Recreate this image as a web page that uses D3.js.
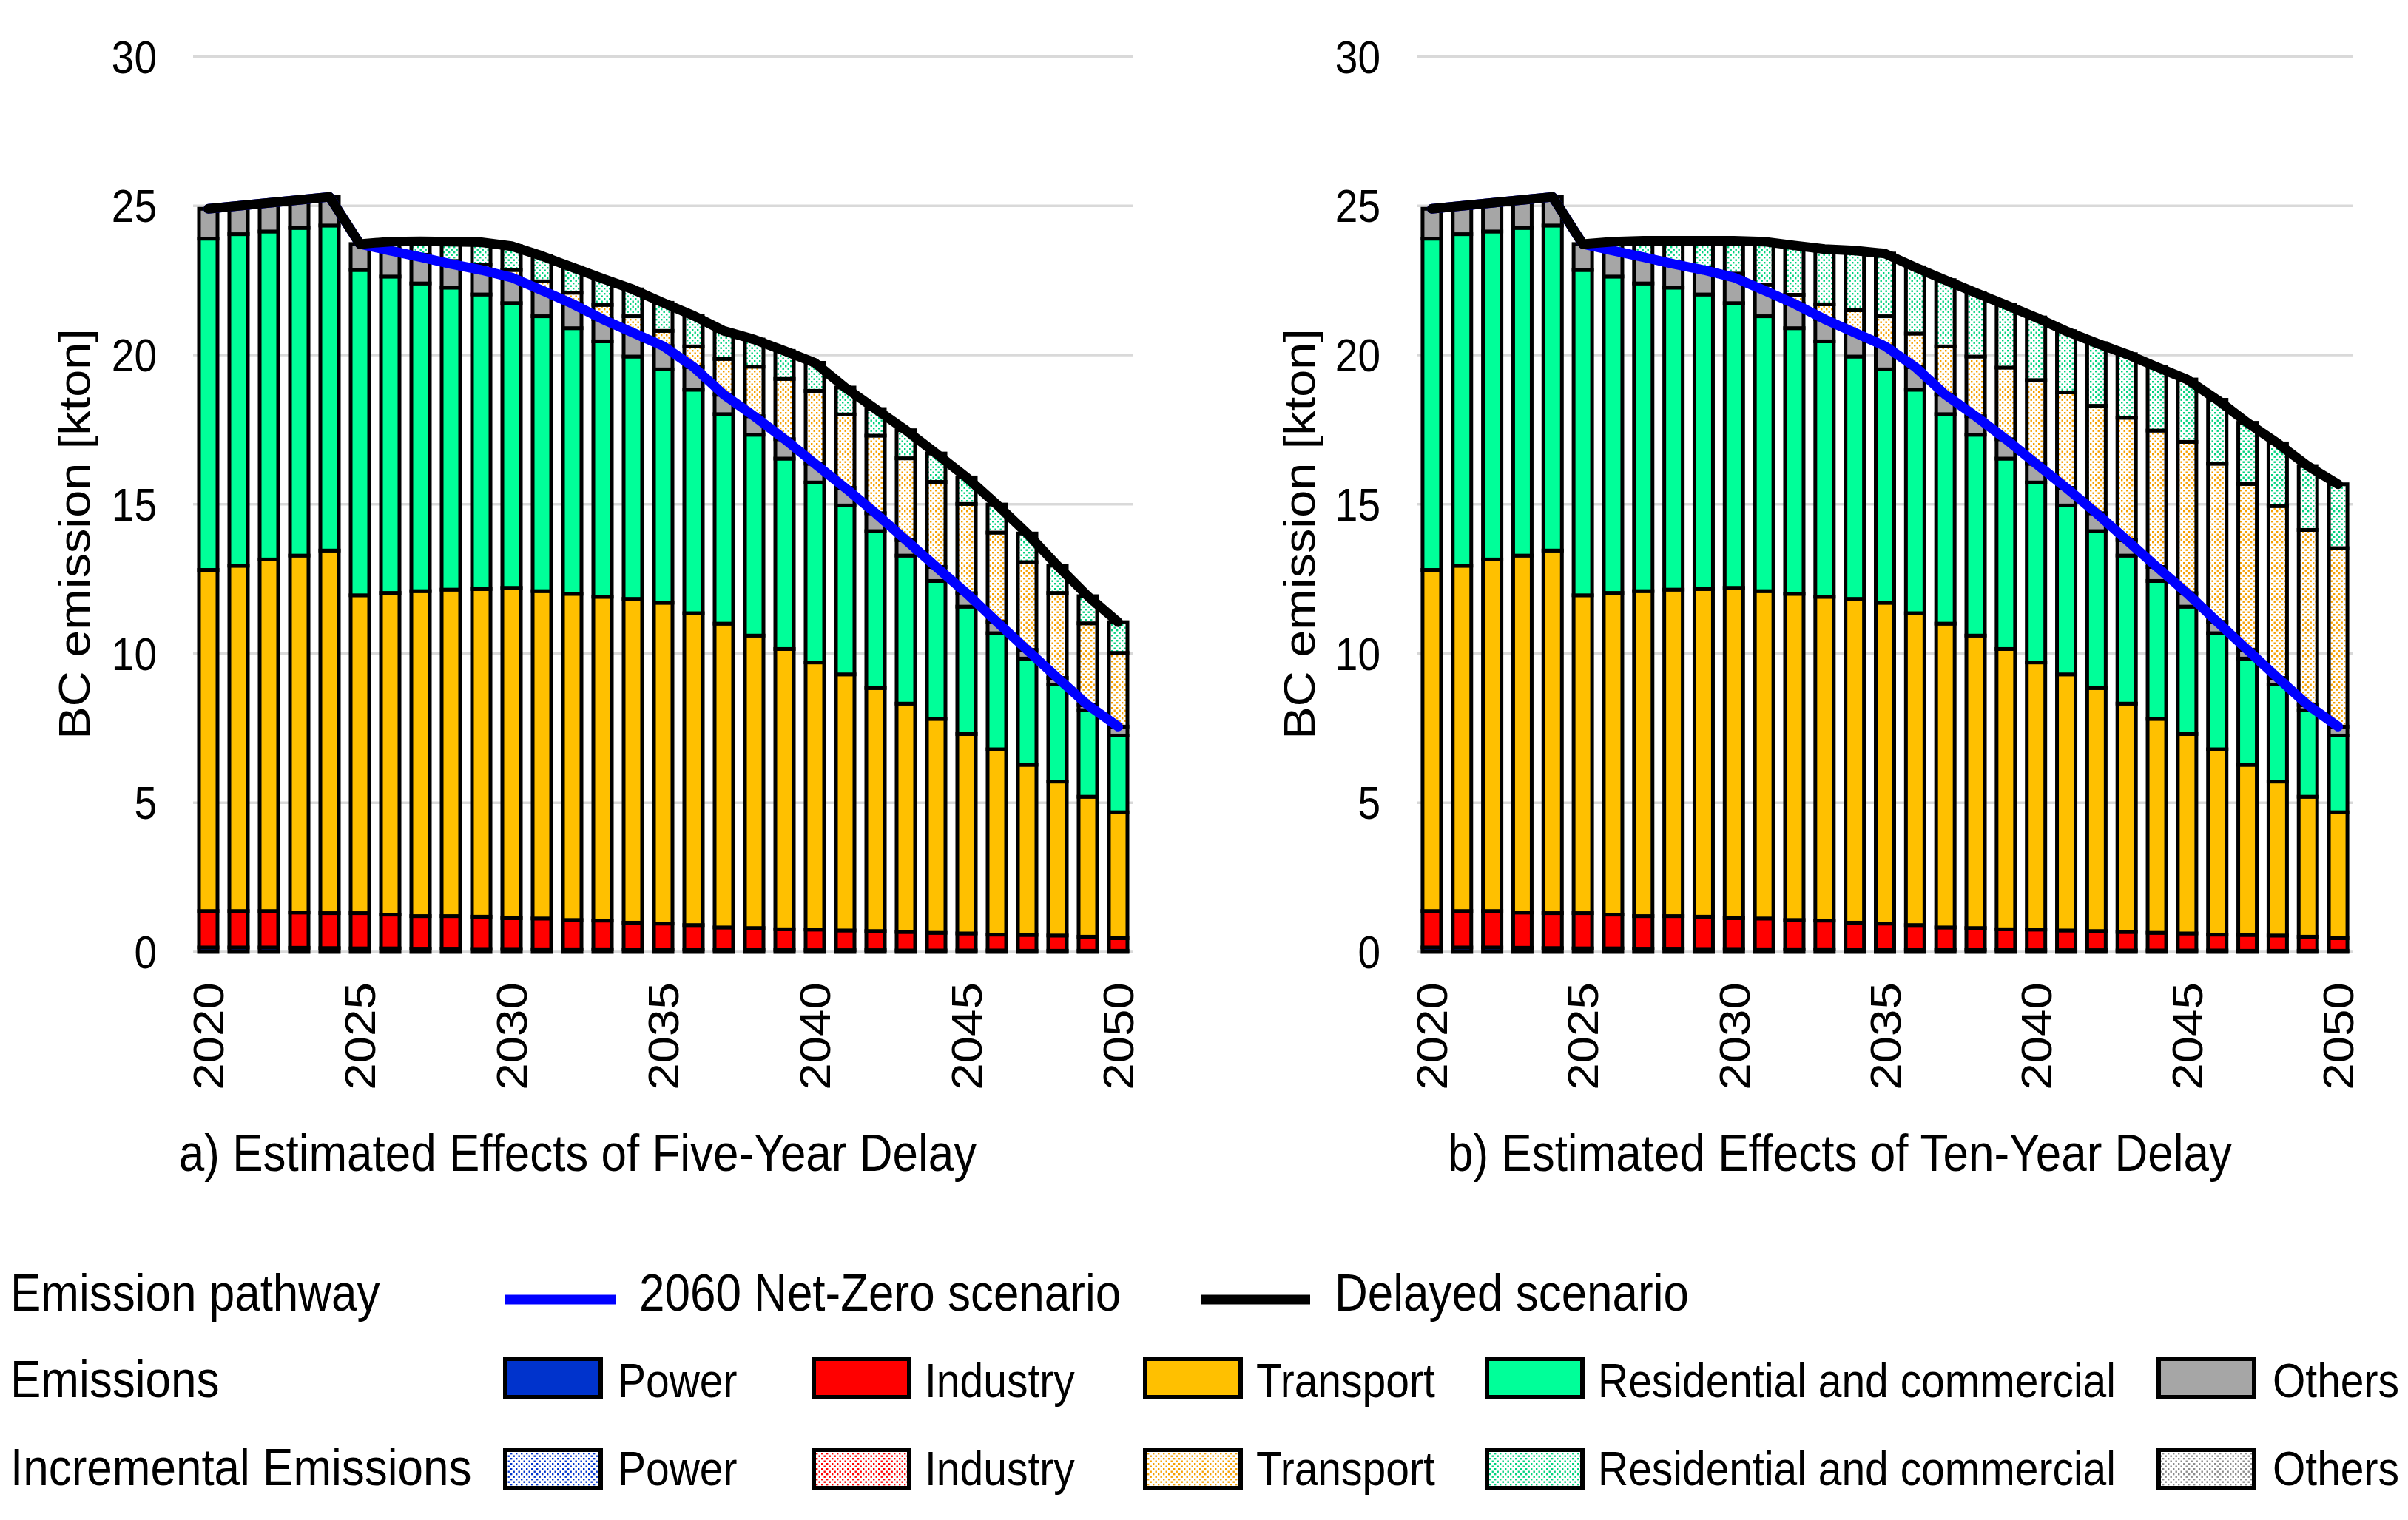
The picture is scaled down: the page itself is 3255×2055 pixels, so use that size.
<!DOCTYPE html>
<html><head><meta charset="utf-8">
<script src="https://cdn.jsdelivr.net/npm/d3@7"></script>
<style>
html,body{margin:0;padding:0;background:#fff;}
svg{display:block;}
text{font-family:"Liberation Sans",Arial,sans-serif;fill:#000;}
</style>
</head><body>
<svg id="c" width="3255" height="2055"></svg>
<script>
// ---------------- DATA ----------------
const years = [2020,2021,2022,2023,2024,2025,2026,2027,2028,2029,2030,2031,2032,2033,2034,2035,
               2036,2037,2038,2039,2040,2041,2042,2043,2044,2045,2046,2047,2048,2049,2050];
const xTickYears = [2020,2025,2030,2035,2040,2045,2050];
const yTicks = [0,5,10,15,20,25,30];

const sectors = ["Power","Industry","Transport","Residential and commercial","Others"];
const sectorColors = ["#0033CC","#FF0000","#FFC000","#00FF99","#A6A6A6"];
const dotColors = ["#0033CC","#FF0000","#F5A000","#00D27E","#8C8C8C"];

// 2060 Net-Zero scenario emissions by sector (kton)
const basePower = [0.15,0.15,0.15,0.14,0.13,0.12,0.12,0.11,0.11,0.10,0.10,0.09,0.09,0.09,0.08,0.08,
                   0.08,0.07,0.07,0.07,0.06,0.06,0.06,0.05,0.05,0.05,0.05,0.04,0.04,0.04,0.04];
const baseIndustry = [1.22,1.22,1.22,1.18,1.17,1.18,1.13,1.09,1.09,1.08,1.03,1.03,0.98,0.96,0.90,0.87,
                      0.82,0.75,0.73,0.69,0.69,0.66,0.64,0.62,0.59,0.57,0.53,0.53,0.51,0.47,0.42];
const baseTransport = [11.43,11.57,11.78,11.96,12.15,10.65,10.78,10.89,10.94,10.98,11.07,10.97,10.93,10.85,10.85,10.75,
                       10.45,10.18,9.80,9.39,8.95,8.58,8.14,7.65,7.17,6.68,6.21,5.70,5.16,4.69,4.22];
const baseResidential = [11.10,11.11,10.99,10.98,10.89,10.90,10.60,10.31,10.12,9.87,9.54,9.21,8.90,8.56,8.12,7.82,
                         7.49,7.02,6.73,6.38,6.03,5.66,5.26,4.96,4.62,4.27,3.89,3.56,3.25,2.90,2.57];
const baseOthers = [1.00,0.95,0.96,0.94,0.96,0.87,0.87,0.88,0.79,0.82,0.86,0.87,0.82,0.74,0.80,0.78,
                    0.76,0.65,0.62,0.65,0.63,0.59,0.60,0.52,0.47,0.45,0.38,0.29,0.22,0.17,0.30];

// Incremental emissions, five-year delay
const inc5Power = [0,0,0,0,0,0,0,0,0,0,0,0,0,0,0,0,0,0,0,0,0,0,0,0,0,0,0,0,0,0,0];
const inc5Industry = [0,0,0,0,0,0,0,0,0,0,0,0,0,0,0,0,0,0,0,0,0,0,0,0,0,0,0,0,0,0,0];
const inc5Transport = [0,0,0,0,0,0,0.05,0.08,0.10,0.18,0.25,0.30,0.37,0.48,0.55,0.51,
                       0.69,1.20,1.66,2.02,2.44,2.46,2.60,2.74,2.85,2.99,2.99,2.94,2.85,2.74,2.47];
const inc5Residential = [0,0,0,0,0,0,0.25,0.45,0.65,0.75,0.80,0.85,0.85,0.88,0.90,0.94,
                         1.03,0.94,0.91,0.94,0.94,0.90,0.89,0.94,0.95,0.89,0.94,0.96,0.91,0.91,1.03];
const inc5Others = [0,0,0,0,0,0,0,0,0,0,0,0,0,0,0,0,0,0,0,0,0,0,0,0,0,0,0,0,0,0,0];

// Incremental emissions, ten-year delay
const inc10Power = [0,0,0,0,0,0,0,0,0,0,0,0,0,0,0,0,0,0,0,0,0,0,0,0,0,0,0,0,0,0,0];
const inc10Industry = [0,0,0,0,0,0,0,0,0,0,0,0,0,0,0,0,0,0,0,0,0,0,0,0,0,0,0,0,0,0,0];
const inc10Transport = [0,0,0,0,0,0,0.02,0.05,0.08,0.08,0.13,0.18,0.30,0.50,0.75,1.00,
                        1.12,1.62,2.00,2.40,2.80,3.20,3.60,4.10,4.57,5.07,5.30,5.56,5.76,5.87,5.98];
const inc10Residential = [0,0,0,0,0,0,0.28,0.50,0.70,0.90,1.10,1.45,1.65,1.85,2.00,2.10,
                          2.22,2.22,2.14,2.10,2.10,2.05,2.10,2.13,2.13,2.09,2.14,2.05,2.10,2.14,2.14];
const inc10Others = [0,0,0,0,0,0,0,0,0,0,0,0,0,0,0,0,0,0,0,0,0,0,0,0,0,0,0,0,0,0,0];

const subtitles = ["a) Estimated Effects of Five-Year Delay", "b) Estimated Effects of Ten-Year Delay"];
const yTitle = "BC emission [kton]";
const legendRowLabels = ["Emission pathway", "Emissions", "Incremental Emissions"];
const lineLegend = ["2060 Net-Zero scenario", "Delayed scenario"];

// ---------------- DRAW ----------------
const svg = d3.select("#c");
const SY = 1.13; // vertical text stretch of the reference
const defs = svg.append("defs");
sectors.forEach((s, k) => {
  const p = defs.append("pattern").attr("id", "pat" + k)
    .attr("patternUnits", "userSpaceOnUse").attr("width", 7).attr("height", 7);
  p.append("rect").attr("width", 7).attr("height", 7).attr("fill", "#fff");
  p.append("rect").attr("x", 0.5).attr("y", 0.5).attr("width", 2.4).attr("height", 2.4).attr("fill", dotColors[k]);
  p.append("rect").attr("x", 4).attr("y", 4).attr("width", 2.4).attr("height", 2.4).attr("fill", dotColors[k]);
});

const y = d3.scaleLinear().domain([0, 30]).range([1287, 76.5]);
const barW = 25;

function txt(g, x, yy, s, size, anchor) {
  return g.append("text").attr("transform", `translate(${x},${yy}) scale(1,${SY})`)
    .attr("font-size", size).attr("text-anchor", anchor || "start").text(s);
}

function panel(range, inc, subtitle, subX, titleX) {
  const g = svg.append("g");
  const x = d3.scaleBand().domain(years).range(range).paddingInner(0).paddingOuter(0);
  const cx = yr => x(yr) + x.bandwidth() / 2;
  const rows = years.map((yr, i) => ({
    year: yr,
    b0: basePower[i], b1: baseIndustry[i], b2: baseTransport[i], b3: baseResidential[i], b4: baseOthers[i],
    i0: inc[0][i], i1: inc[1][i], i2: inc[2][i], i3: inc[3][i], i4: inc[4][i]
  }));
  const keys = ["b0","b1","b2","b3","b4","i0","i1","i2","i3","i4"];
  const series = d3.stack().keys(keys)(rows);

  // gridlines
  g.append("g").selectAll("line").data(yTicks).join("line")
    .attr("x1", range[0]).attr("x2", range[1])
    .attr("y1", d => y(d)).attr("y2", d => y(d))
    .attr("stroke", "#D9D9D9").attr("stroke-width", 3.5);

  // y tick labels
  yTicks.forEach(t => txt(g, range[0] - 49, y(t) + 0.358 * 55 * SY, String(t), 55, "end"));

  // y title
  g.append("text")
    .attr("transform", `translate(${titleX},722) scale(1,${SY}) rotate(-90)`)
    .attr("font-size", 59).attr("text-anchor", "middle").attr("dy", "0.35em").text(yTitle);

  // x tick labels
  xTickYears.forEach(yr => {
    g.append("text")
      .attr("transform", `translate(${cx(yr) + 0.36 * 58},1328) scale(1,${SY}) rotate(-90)`)
      .attr("font-size", 58).attr("text-anchor", "end").text(yr);
  });

  // bars
  series.forEach((s, k) => {
    g.append("g").selectAll("rect").data(s.filter(d => d[1] - d[0] > 1e-6)).join("rect")
      .attr("x", d => cx(d.data.year) - barW / 2)
      .attr("y", d => y(d[1]))
      .attr("width", barW)
      .attr("height", d => y(d[0]) - y(d[1]))
      .attr("fill", k < 5 ? sectorColors[k] : `url(#pat${k - 5})`)
      .attr("stroke", "#000").attr("stroke-width", 5);
  });

  // lines
  const baseTop = series[4].map(d => ({ year: d.data.year, v: d[1] }));
  const delTop = series[9].map(d => ({ year: d.data.year, v: d[1] }));
  const line = d3.line().x(d => cx(d.year)).y(d => y(d.v));
  g.append("path").datum(baseTop).attr("d", line).attr("fill", "none")
    .attr("stroke", "#0000FF").attr("stroke-width", 13).attr("stroke-linejoin", "round").attr("stroke-linecap", "round");
  g.append("path").datum(delTop).attr("d", line).attr("fill", "none")
    .attr("stroke", "#000").attr("stroke-width", 13).attr("stroke-linejoin", "round").attr("stroke-linecap", "round");

  // subtitle
  txt(g, subX, 1583, subtitle, 62, "middle");
}

panel([261, 1532], [inc5Power, inc5Industry, inc5Transport, inc5Residential, inc5Others], subtitles[0], 781, 100);
panel([1915, 3181], [inc10Power, inc10Industry, inc10Transport, inc10Residential, inc10Others], subtitles[1], 2487, 1756);

// ---------------- LEGEND ----------------
const lg = svg.append("g");
const rowBase = [1772, 1889, 2008];
legendRowLabels.forEach((l, r) => txt(lg, 14, rowBase[r], l, 62, "start"));

const lineX = [[683, 832], [1623, 1771]];
const lineTxtX = [864, 1804];
const lineCols = ["#0000FF", "#000"];
lineLegend.forEach((l, i) => {
  lg.append("line").attr("x1", lineX[i][0]).attr("x2", lineX[i][1]).attr("y1", 1757).attr("y2", 1757)
    .attr("stroke", lineCols[i]).attr("stroke-width", 13);
  txt(lg, lineTxtX[i], 1772, l, 62, "start");
});

const swX = [683, 1100, 1548, 2010, 2918];
const swTxtX = [835, 1250, 1698, 2160, 3072];
const swY = [1837, 1960];
sectors.forEach((s, k) => {
  [0, 1].forEach(r => {
    lg.append("rect").attr("x", swX[k]).attr("y", swY[r]).attr("width", 129).attr("height", 52)
      .attr("fill", r === 0 ? sectorColors[k] : `url(#pat${k})`)
      .attr("stroke", "#000").attr("stroke-width", 6);
    txt(lg, swTxtX[k], rowBase[r + 1], s, 57, "start");
  });
});
</script>
</body></html>
